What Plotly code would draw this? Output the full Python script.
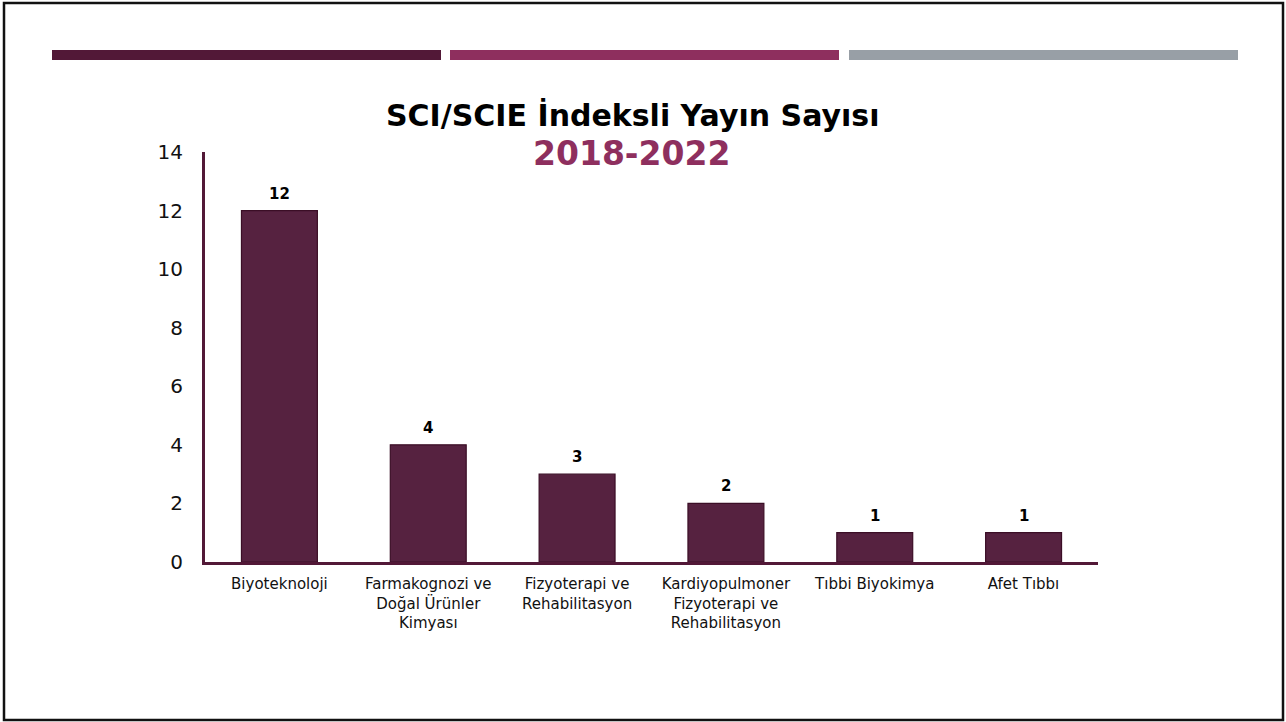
import plotly.graph_objects as go

categories = [
    "Biyoteknoloji",
    "Farmakognozi ve<br>Doğal Ürünler<br>Kimyası",
    "Fizyoterapi ve<br>Rehabilitasyon",
    "Kardiyopulmoner<br>Fizyoterapi ve<br>Rehabilitasyon",
    "Tıbbi Biyokimya",
    "Afet Tıbbı",
]
values = [12, 4, 3, 2, 1, 1]
y_ticks = [0, 2, 4, 6, 8, 10, 12, 14]
title_main = "SCI/SCIE İndeksli Yayın Sayısı"
title_sub = "2018-2022"

W, H = 1286, 722
L, R, T, B = 205, 188, 152, 160
PW, PH = W - L - R, H - T - B

def px(x):
    return (x - L) / PW

def py(y):
    return (H - B - y) / PH

fig = go.Figure()
fig.add_trace(go.Bar(
    x=categories, y=values, width=0.51,
    marker=dict(color="#562240", line=dict(color="#3b0e26", width=1.2)),
    hoverinfo="x+y",
))

shapes = [
    dict(type="rect", xref="paper", yref="paper", x0=px(4), x1=px(1283), y0=py(3), y1=py(720),
         line=dict(color="#111111", width=2.5), fillcolor="rgba(0,0,0,0)", layer="below"),
    dict(type="rect", xref="paper", yref="paper", x0=px(52), x1=px(441), y0=py(50), y1=py(60),
         line=dict(width=0), fillcolor="#521837"),
    dict(type="rect", xref="paper", yref="paper", x0=px(450), x1=px(839), y0=py(50), y1=py(60),
         line=dict(width=0), fillcolor="#8e2f5e"),
    dict(type="rect", xref="paper", yref="paper", x0=px(849), x1=px(1238), y0=py(50), y1=py(60),
         line=dict(width=0), fillcolor="#989fa6"),
]

annotations = [
    dict(text="<b>" + title_main + "</b>", xref="paper", yref="paper", x=px(632), y=py(116),
         xanchor="center", yanchor="middle",
         showarrow=False, font=dict(family="DejaVu Sans", size=30, color="#000000")),
    dict(text="<b>" + title_sub + "</b>", xref="paper", yref="paper", x=px(631), y=py(153),
         xanchor="center", yanchor="middle",
         showarrow=False, font=dict(family="DejaVu Sans", size=33, color="#8e2f5e")),
]
for c, v in zip(categories, values):
    annotations.append(dict(
        text="<b>%d</b>" % v, x=c, y=v, xref="x", yref="y", yanchor="bottom",
        yshift=6, showarrow=False,
        font=dict(family="DejaVu Sans", size=15, color="#000000"),
    ))

fig.update_layout(
    width=W, height=H,
    margin=dict(l=L, r=R, t=T, b=B),
    paper_bgcolor="white", plot_bgcolor="white",
    showlegend=False,
    shapes=shapes, annotations=annotations,
    xaxis=dict(
        range=[-0.5, 5.5], showline=True, linecolor="#521837", linewidth=3,
        ticks="", showgrid=False, zeroline=False,
        tickfont=dict(family="DejaVu Sans", size=15, color="#111111"),
        ticklabelstandoff=6,
    ),
    yaxis=dict(
        range=[0, 14], tickvals=y_ticks, showline=True, linecolor="#521837", linewidth=3,
        ticks="", showgrid=False, zeroline=False,
        tickfont=dict(family="DejaVu Sans", size=20, color="#111111"),
        ticklabelstandoff=15,
    ),
)

fig.write_html("out.html", config={"displayModeBar": False},
               post_script="document.body.style.margin='0';")
